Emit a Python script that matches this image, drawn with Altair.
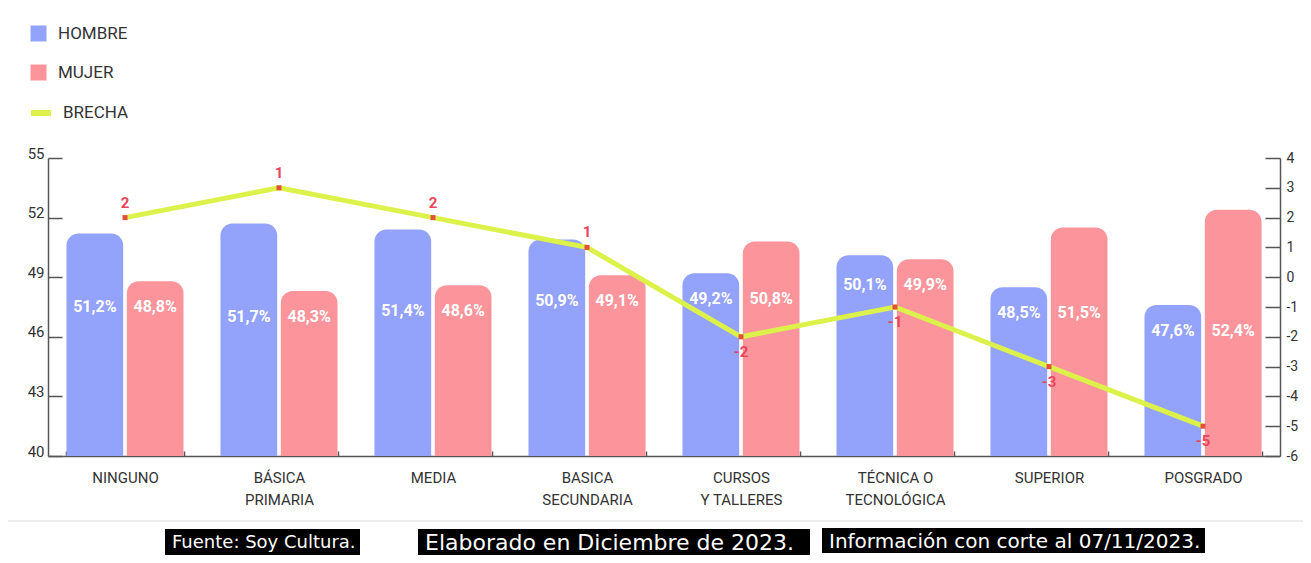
import altair as alt
import pandas as pd

categorias = ["NINGUNO", "BÁSICA\nPRIMARIA", "MEDIA", "BASICA\nSECUNDARIA",
              "CURSOS\nY TALLERES", "TÉCNICA O\nTECNOLÓGICA", "SUPERIOR", "POSGRADO"]
series = ["HOMBRE", "MUJER"]
hombre = [51.2, 51.7, 51.4, 50.9, 49.2, 50.1, 48.5, 47.6]
mujer = [48.8, 48.3, 48.6, 49.1, 50.8, 49.9, 51.5, 52.4]
brecha = [2, 3, 2, 1, -2, -1, -3, -5]
brecha_etiqueta = ["2", "1", "2", "1", "-2", "-1", "-3", "-5"]
serie_linea = ["BRECHA"]
notas = ["Fuente: Soy Cultura.", "Elaborado en Diciembre de 2023.",
         "Información con corte al 07/11/2023."]
ticks_izq = [40, 43, 46, 49, 52, 55]
ticks_der = [-6, -5, -4, -3, -2, -1, 0, 1, 2, 3, 4]

AZUL = "#93a2fa"
ROSA = "#fc959b"
VERDE = "#dcf24a"
ROJO = "#e8455a"
COND = "Roboto, sans-serif"

rows = []
for i, c in enumerate(categorias):
    m = min(hombre[i], mujer[i])
    for s, v in zip(series, [hombre[i], mujer[i]]):
        rows.append({"cat": c, "sexo": s, "valor": v, "minimo": m,
                     "etq": f"{v:.1f}".replace(".", ",") + "%"})
bars_df = pd.DataFrame(rows)
line_df = pd.DataFrame({"cat": categorias, "brecha": brecha,
                        "etq": brecha_etiqueta, "serie": serie_linea[0]})

xscale = alt.Scale(domain=categorias, paddingInner=0.24, paddingOuter=0.12)
x_axis = alt.Axis(labelExpr="split(datum.label, '\\n')", labelAngle=0,
                  labelFont=COND, labelFontSize=15, labelColor="#333",
                  labelLineHeight=22, labelPadding=19,
                  tickBand="extent", tickSize=alt.ExprRef(expr="-5"),
                  tickColor="#555", tickWidth=1.5,
                  domainColor="#555", domainWidth=1.5)
x_enc = alt.X("cat:N", sort=categorias, scale=xscale, title=None, axis=x_axis)
xoff = alt.XOffset("sexo:N", sort=series, scale=alt.Scale(domain=series, paddingInner=0.06))

yleft = alt.Scale(domain=[40, 55], nice=False, zero=False)
left_axis = alt.Axis(values=ticks_izq, grid=False, labelFont=COND, labelFontSize=15,
                     labelColor="#333", labelBaseline="alphabetic",
                     labelOverlap=False,
                     tickSize=alt.ExprRef(expr="-14"), labelPadding=18,
                     tickColor="#555", tickWidth=1.5,
                     domainColor="#555", domainWidth=1.5)

bars = alt.Chart(bars_df).mark_bar(cornerRadiusTopLeft=12, cornerRadiusTopRight=12).encode(
    x=x_enc,
    xOffset=xoff,
    y=alt.Y("valor:Q", scale=yleft, title=None, axis=left_axis),
    y2=alt.datum(40),
    fill=alt.Fill("sexo:N", scale=alt.Scale(domain=series, range=[AZUL, ROSA]),
                  legend=alt.Legend(title=None, orient="none", legendX=-18, legendY=-133,
                                    symbolType="square", symbolSize=256,
                                    symbolStrokeWidth=0, labelFont=COND,
                                    labelFontSize=17, labelColor="#333",
                                    labelOffset=11, rowPadding=21, padding=0)),
)
bar_text = alt.Chart(bars_df).mark_text(color="white", font="Roboto", fontWeight="bold",
                                        fontSize=16, dy=26).encode(
    x=x_enc, xOffset=xoff,
    y=alt.Y("minimo:Q", scale=yleft, title=None, axis=left_axis),
    text="etq:N",
)
left = alt.layer(bars, bar_text)

yright = alt.Scale(domain=[-6, 4], nice=False, zero=False)
right_axis = alt.Axis(orient="right", values=ticks_der, grid=False, labelFont=COND,
                      labelFontSize=14, labelColor="#333", labelOverlap=False,
                      labelExpr="'' + datum.value",
                      tickSize=alt.ExprRef(expr="-15"), labelPadding=21,
                      tickColor="#555", tickWidth=1.5,
                      domainColor="#555", domainWidth=1.5)
y_right = alt.Y("brecha:Q", scale=yright, title=None, axis=right_axis)

line = alt.Chart(line_df).mark_line(strokeWidth=5).encode(
    x=x_enc,
    y=y_right,
    stroke=alt.Stroke("serie:N", scale=alt.Scale(domain=serie_linea, range=[VERDE]),
                      legend=alt.Legend(title=None, orient="none", legendX=-20, legendY=-58,
                                        symbolType="stroke", symbolSize=400,
                                        symbolStrokeWidth=6, labelFont=COND,
                                        labelFontSize=17, labelColor="#333",
                                        labelOffset=9, padding=0)),
)
pts = alt.Chart(line_df).mark_square(size=25, color="#e2503c", opacity=1).encode(
    x=x_enc, y=y_right)
lbl_pos = alt.Chart(line_df).transform_filter("datum.brecha >= 0").mark_text(
    color=ROJO, font="Roboto", fontWeight="bold", fontSize=15, dy=-15).encode(
    x=x_enc, y=y_right, text="etq:N")
lbl_neg = alt.Chart(line_df).transform_filter("datum.brecha < 0").mark_text(
    color=ROJO, font="Roboto", fontWeight="bold", fontSize=15, dy=15).encode(
    x=x_enc, y=y_right, text="etq:N")
right = alt.layer(line, pts, lbl_pos, lbl_neg)


def nota(texto, x1, x2, y1, y2, size):
    d = pd.DataFrame({"t": [texto]})
    box = alt.Chart(d).mark_rect(color="black").encode(
        x=alt.value(x1), x2=alt.value(x2), y=alt.value(y1), y2=alt.value(y2))
    txt = alt.Chart(d).mark_text(color="white", font="DejaVu Sans", fontSize=size,
                                 align="left", baseline="middle").encode(
        x=alt.value(x1 + 7), y=alt.value((y1 + y2) / 2 + 1), text="t:N")
    return [box, txt]


sep = alt.Chart(pd.DataFrame({"a": [0]})).mark_rule(color="#e6e6e6", strokeWidth=1.5).encode(
    x=alt.value(-40), x2=alt.value(1255), y=alt.value(363))

foot = [sep]
foot += nota(notas[0], 117, 312, 371, 397, 18)
foot += nota(notas[1], 370, 762, 371, 397, 22)
foot += nota(notas[2], 774, 1157, 370, 395, 20)

chart = alt.layer(left, right, *foot).resolve_scale(y="independent").properties(
    width=1232, height=298,
    autosize=alt.AutoSizeParams(type="none"),
    padding={"left": 40, "top": 150, "right": 23, "bottom": 99},
).configure_view(stroke=None)

chart.save("out.html", embed_options={"renderer": "svg", "actions": False})
